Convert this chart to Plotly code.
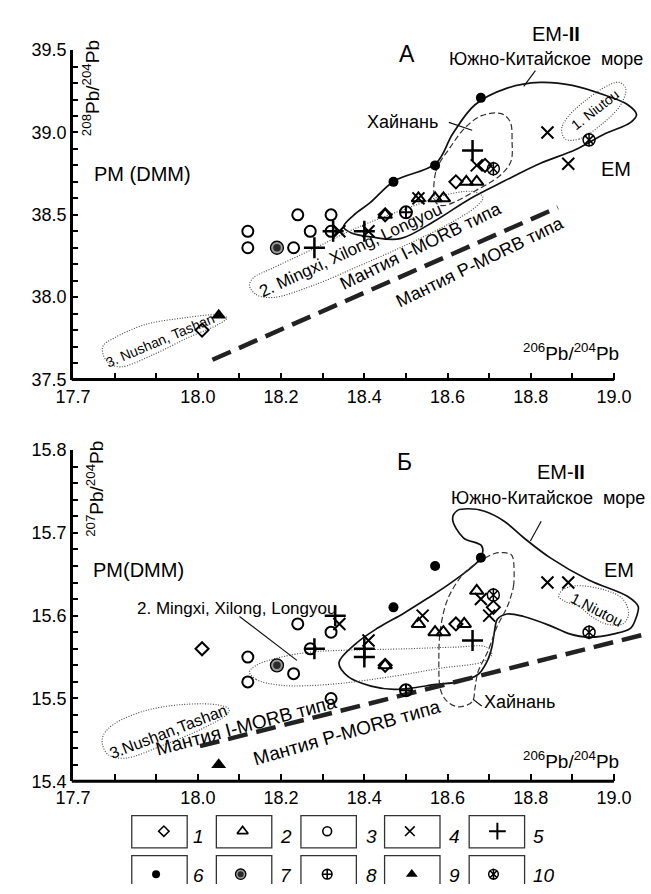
import plotly.graph_objects as go

FIG_W, FIG_H = 651, 894
FONT = "Arial, Liberation Sans, sans-serif"

# ---------------- axes / ticks ----------------
X_RANGE = [17.7, 19.0888]
X_TICKS = [17.7, 17.8, 17.9, 18.0, 18.1, 18.2, 18.3, 18.4, 18.5, 18.6, 18.7, 18.8, 18.9, 19.0]
X_TEXT = ["17.7", "", "", "18.0", "", "18.2", "", "18.4", "", "18.6", "", "18.8", "", "19.0"]
A_Y_TICKS = [37.5, 37.6, 37.7, 37.8, 37.9, 38.0, 38.1, 38.2, 38.3, 38.4, 38.5,
             38.6, 38.7, 38.8, 38.9, 39.0, 39.1, 39.2, 39.3, 39.4, 39.5]
A_Y_TEXT = ["37.5", "", "", "", "", "38.0", "", "", "", "", "38.5",
            "", "", "", "", "39.0", "", "", "", "", "39.5"]
B_Y_TICKS = [15.40, 15.42, 15.44, 15.46, 15.48, 15.50, 15.52, 15.54, 15.56, 15.58, 15.60,
             15.62, 15.64, 15.66, 15.68, 15.70, 15.72, 15.74, 15.76, 15.78, 15.80]
B_Y_TEXT = ["15.4", "", "", "", "", "15.5", "", "", "", "", "15.6",
            "", "", "", "", "15.7", "", "", "", "", "15.8"]

# ---------------- panel A data (208Pb/204Pb) ----------------
A_pts = {
    1: ([18.01, 18.45, 18.62, 18.69], [37.80, 38.50, 38.70, 38.80]),
    2: ([18.45, 18.53, 18.57, 18.59, 18.645, 18.67], [38.50, 38.60, 38.60, 38.60, 38.70, 38.70]),
    3: ([18.12, 18.12, 18.24, 18.32, 18.27, 18.23, 18.32], [38.40, 38.30, 38.50, 38.50, 38.40, 38.30, 38.40]),
    4: ([18.34, 18.41, 18.53, 18.67, 18.84, 18.89], [38.40, 38.40, 38.60, 38.80, 39.00, 38.81]),
    5: ([18.28, 18.325, 18.40, 18.66], [38.30, 38.40, 38.40, 38.89]),
    6: ([18.47, 18.57, 18.68], [38.70, 38.80, 39.21]),
    7: ([18.19], [38.30]),
    8: ([18.50], [38.515]),
    9: ([18.05], [37.89]),
    10: ([18.71, 18.94], [38.78, 38.955]),
}
A_sea_x = [18.350, 18.374, 18.414, 18.472, 18.572, 18.612, 18.666, 18.743, 18.822, 18.900, 18.977, 19.033,
           19.054, 19.040, 18.977, 18.907, 18.822, 18.736, 18.654, 18.572, 18.486, 18.416, 18.369, 18.350]
A_sea_y = [38.426, 38.497, 38.574, 38.705, 38.812, 38.990, 39.168, 39.269, 39.304, 39.286, 39.227, 39.168,
           39.108, 39.061, 38.990, 38.895, 38.812, 38.705, 38.598, 38.467, 38.355, 38.366, 38.390, 38.426]
A_hai_x = [18.572, 18.572, 18.607, 18.643, 18.682, 18.729, 18.750, 18.755, 18.752, 18.724, 18.666, 18.619, 18.589, 18.572]
A_hai_y = [38.574, 38.764, 38.912, 39.031, 39.102, 39.114, 39.067, 38.942, 38.823, 38.734, 38.645, 38.580, 38.556, 38.574]
A_min_x = [18.124, 18.140, 18.180, 18.269, 18.386, 18.502, 18.607, 18.666, 18.685, 18.666, 18.607, 18.502,
           18.386, 18.269, 18.175, 18.133, 18.124]
A_min_y = [38.070, 38.016, 37.998, 38.064, 38.188, 38.319, 38.450, 38.545, 38.604, 38.639, 38.628, 38.539,
           38.426, 38.283, 38.171, 38.117, 38.070]
A_nus_x = [17.771, 17.783, 17.813, 17.895, 17.977, 18.047, 18.070, 18.047, 17.965, 17.871, 17.801, 17.773, 17.771]
A_nus_y = [37.666, 37.607, 37.577, 37.654, 37.755, 37.832, 37.874, 37.892, 37.874, 37.832, 37.755, 37.708, 37.666]
A_niu_x = [18.883, 18.916, 18.970, 19.016, 19.028, 19.012, 18.986, 18.930, 18.888, 18.874, 18.883]
A_niu_y = [38.960, 38.960, 39.049, 39.168, 39.269, 39.304, 39.286, 39.191, 39.091, 39.019, 38.960]
A_lead_sea = ([18.783, 18.811], [39.280, 39.375])
A_lead_hai = ([18.603, 18.659], [39.061, 39.013])
A_morb = ([18.035, 18.865], [37.62, 38.545])

# ---------------- panel B data (207Pb/204Pb) ----------------
B_pts = {
    1: ([18.01, 18.45, 18.62, 18.71], [15.56, 15.54, 15.59, 15.61]),
    2: ([18.45, 18.53, 18.57, 18.59, 18.64, 18.67], [15.54, 15.59, 15.58, 15.58, 15.59, 15.63]),
    3: ([18.12, 18.12, 18.24, 18.23, 18.27, 18.32, 18.32], [15.55, 15.52, 15.59, 15.53, 15.56, 15.58, 15.50]),
    4: ([18.34, 18.41, 18.54, 18.68, 18.70, 18.84, 18.89], [15.59, 15.57, 15.60, 15.62, 15.60, 15.64, 15.64]),
    5: ([18.33, 18.28, 18.40, 18.40, 18.66], [15.60, 15.56, 15.56, 15.55, 15.57]),
    6: ([18.47, 18.57, 18.68], [15.61, 15.66, 15.67]),
    7: ([18.19], [15.54]),
    8: ([18.50], [15.51]),
    9: ([18.05], [15.42]),
    10: ([18.71, 18.94], [15.625, 15.58]),
}
B_sea_x = [18.339, 18.379, 18.432, 18.495, 18.549, 18.612, 18.680, 18.682, 18.638, 18.612, 18.624, 18.650,
           18.689, 18.736, 18.783, 18.846, 18.939, 19.033, 19.058, 19.054, 19.040, 19.000, 18.939, 18.893,
           18.846, 18.783, 18.743, 18.720, 18.713, 18.706, 18.694, 18.673, 18.626, 18.572, 18.519, 18.472,
           18.416, 18.362, 18.339]
B_sea_y = [15.543, 15.566, 15.585, 15.603, 15.620, 15.641, 15.670, 15.684, 15.694, 15.717, 15.727, 15.729,
           15.726, 15.714, 15.694, 15.670, 15.643, 15.623, 15.611, 15.599, 15.585, 15.578, 15.574, 15.578,
           15.588, 15.599, 15.602, 15.596, 15.582, 15.561, 15.544, 15.529, 15.520, 15.517, 15.513, 15.511,
           15.515, 15.526, 15.543]
B_hai_x = [18.757, 18.759, 18.752, 18.741, 18.720, 18.696, 18.673, 18.666, 18.659, 18.626, 18.600, 18.584,
           18.579, 18.584, 18.603, 18.643, 18.682, 18.713, 18.736, 18.752, 18.757]
B_hai_y = [15.670, 15.638, 15.623, 15.608, 15.588, 15.556, 15.532, 15.513, 15.496, 15.490, 15.496, 15.509,
           15.549, 15.588, 15.623, 15.653, 15.667, 15.675, 15.676, 15.674, 15.670]
B_min_x = [18.124, 18.140, 18.199, 18.315, 18.472, 18.589, 18.682, 18.706, 18.694, 18.619, 18.502, 18.339,
           18.269, 18.192, 18.140, 18.124]
B_min_y = [15.532, 15.523, 15.516, 15.517, 15.527, 15.537, 15.544, 15.553, 15.562, 15.562, 15.560, 15.558,
           15.556, 15.549, 15.540, 15.532]
B_nus_x = [17.771, 17.785, 17.825, 17.918, 18.012, 18.070, 18.075, 18.051, 17.972, 17.879, 17.801, 17.773, 17.771]
B_nus_y = [15.444, 15.432, 15.428, 15.444, 15.464, 15.481, 15.487, 15.492, 15.493, 15.486, 15.470, 15.456, 15.444]
B_niu_x = [18.867, 18.876, 18.907, 18.977, 19.021, 19.035, 19.021, 18.981, 18.946, 18.916, 18.883, 18.867]
B_niu_y = [15.623, 15.631, 15.636, 15.631, 15.620, 15.602, 15.590, 15.590, 15.599, 15.611, 15.617, 15.623]
B_lead_sea = ([18.825, 18.799], [15.714, 15.690])
B_lead_min = ([18.100, 18.238], [15.599, 15.546])
B_lead_hai = ([18.661, 18.682], [15.499, 15.491])
B_morb = ([18.005, 19.086], [15.4425, 15.579])

LEGEND_NUMS = ["1", "2", "3", "4", "5", "6", "7", "8", "9", "10"]

# ---------------- helpers ----------------
def P(px, py):
    return px / FIG_W, 1 - py / FIG_H

STY = {
    1: dict(symbol='diamond-open', size=10, color='black', line=dict(color='black', width=2)),
    2: dict(symbol='triangle-up-open', size=12, color='black', line=dict(color='black', width=2)),
    3: dict(symbol='circle-open', size=11, color='black', line=dict(color='black', width=2)),
    4: dict(symbol='x-thin-open', size=12, color='black', line=dict(color='black', width=2)),
    5: dict(symbol='cross-thin-open', size=15, color='black', line=dict(color='black', width=2.5)),
    6: dict(symbol='circle', size=10, color='black', line=dict(width=0)),
    8: dict(symbol='circle-cross-open', size=12, color='black', line=dict(color='black', width=2)),
    9: dict(symbol='triangle-up', size=13, color='black', line=dict(width=0)),
}

def marks(g, xs, ys, xa, ya, k=1.0):
    out = []
    base = dict(x=xs, y=ys, xaxis=xa, yaxis=ya, mode='markers', showlegend=False,
                hoverinfo='skip', cliponaxis=False)
    if g in STY:
        s = STY[g]
        ln = dict(s['line'])
        if 'width' in ln and ln['width']:
            ln['width'] = ln['width'] * (0.8 if k < 1 else 1)
        out.append(go.Scatter(**base, marker=dict(symbol=s['symbol'], size=s['size'] * k,
                                                   color=s['color'], line=ln)))
    elif g == 7:
        out.append(go.Scatter(**base, marker=dict(symbol='circle', size=13 * k, color='#9a9a9a',
                                                   line=dict(color='black', width=1.3))))
        out.append(go.Scatter(**base, marker=dict(symbol='circle', size=7.5 * k, color='#2a2a2a',
                                                   line=dict(width=0))))
    elif g == 10:
        out.append(go.Scatter(**base, marker=dict(symbol='circle-x-open', size=12 * k, color='black',
                                                   line=dict(color='black', width=1.5))))
        out.append(go.Scatter(**base, marker=dict(symbol='line-ns-open', size=10 * k, color='black',
                                                   line=dict(color='black', width=1.5))))
    return out

def curve(xs, ys, xa, ya, width, dash='solid', color='#111', spline=True):
    return go.Scatter(x=xs, y=ys, xaxis=xa, yaxis=ya, mode='lines', showlegend=False,
                      hoverinfo='skip',
                      line=dict(color=color, width=width, dash=dash,
                                shape='spline' if spline else 'linear', smoothing=1.0))

fig = go.Figure()

DOT = "1px,1.6px"
HDASH = "6px,3px"
MDASH = "20px,9px"

for xa, ya, sea, hai, mn, nus, niu, leads, morb in [
    ('x', 'y', (A_sea_x, A_sea_y), (A_hai_x, A_hai_y), (A_min_x, A_min_y), (A_nus_x, A_nus_y),
     (A_niu_x, A_niu_y), [A_lead_sea, A_lead_hai], A_morb),
    ('x2', 'y2', (B_sea_x, B_sea_y), (B_hai_x, B_hai_y), (B_min_x, B_min_y), (B_nus_x, B_nus_y),
     (B_niu_x, B_niu_y), [B_lead_sea, B_lead_min, B_lead_hai], B_morb),
]:
    fig.add_trace(curve(*sea, xa, ya, 1.7))
    fig.add_trace(curve(*hai, xa, ya, 1.2, HDASH, '#333'))
    fig.add_trace(curve(*mn, xa, ya, 1.1, DOT, '#444'))
    fig.add_trace(curve(*nus, xa, ya, 1.1, DOT, '#444'))
    fig.add_trace(curve(*niu, xa, ya, 1.1, DOT, '#444'))
    for ld in leads:
        fig.add_trace(curve(*ld, xa, ya, 1.2, spline=False))
    fig.add_trace(curve(*morb, xa, ya, 4.5, MDASH, '#222', spline=False))

for g in range(1, 11):
    for tr in marks(g, *A_pts[g], 'x', 'y'):
        fig.add_trace(tr)
    for tr in marks(g, *B_pts[g], 'x2', 'y2'):
        fig.add_trace(tr)

# ---------------- legend (bottom boxes) ----------------
LEG_BOX_X = [117, 204, 291, 377, 464]
LEG_MARK_X = [[150, 231, 318, 403, 493], [142, 229, 318, 405, 489]]
LEG_ROW_Y = [(824, 857, 840, 845), (865, 898, 884, 885)]
LEG_LAB_X = [178, 267, 356, 441, 528]

shapes = []
annots = []
for r in range(2):
    y0, y1, my, ly = LEG_ROW_Y[r]
    for c in range(5):
        g = r * 5 + c + 1
        bx = LEG_BOX_X[c]
        shapes.append(dict(type='rect', xref='x3', yref='y3', x0=bx, x1=bx + 57, y0=y0, y1=y1,
                           line=dict(color='#333', width=1.3)))
        for tr in marks(g, [LEG_MARK_X[r][c]], [my], 'x3', 'y3', k=0.8):
            fig.add_trace(tr)
        lx, lyp = P(LEG_LAB_X[c], ly)
        annots.append(dict(x=lx, y=lyp, xref='paper', yref='paper', text='<i>%s</i>' % LEGEND_NUMS[g - 1],
                           showarrow=False, xanchor='left', yanchor='middle',
                           font=dict(size=19, family=FONT, color='black')))

# x-axis lines (drawn in paper space so they are not clipped)
x0p = 56.6 / FIG_W
x1p = 613.0 / FIG_W
for py in (378, 789):
    shapes.append(dict(type='line', xref='paper', yref='paper', x0=x0p - 0.002, x1=x1p,
                       y0=1 - py / FIG_H, y1=1 - py / FIG_H, line=dict(color='black', width=3)))

def txt(s, px, py, size, angle=0, xanchor='center'):
    x, y = P(px, py)
    annots.append(dict(x=x, y=y, xref='paper', yref='paper', text=s, showarrow=False,
                       textangle=angle, xanchor=xanchor, yanchor='middle',
                       font=dict(size=size, family=FONT, color='black')))

SEA = "Южно-Китайское\u00a0 море"
# panel A labels
txt("А", 400, 45, 23)
txt("EM-<b>II</b>", 553, 25, 20)
txt(SEA, 543, 50, 18)
txt("Хайнань", 395, 115, 18)
txt("PM (DMM)", 128, 168, 20)
txt("EM", 615, 163, 20)
txt("1. Niutou", 593, 102, 14, -38)
txt("2. Mingxi, Xilong, Longyou", 342, 246, 17, -25)
txt("3. Nushan, Tashan", 147, 338, 14, -23)
txt("Мантия I-MORB типа", 414, 241, 18, -26)
txt("Мантия P-MORB типа", 475, 258, 18, -26)
txt("<sup>208</sup>Pb/<sup>204</sup>Pb", 75, 80, 19, -90)
txt("<sup>206</sup>Pb/<sup>204</sup>Pb", 569, 350, 19)
# panel B labels
txt("Б", 397, 462, 23)
txt("EM-<b>II</b>", 558, 473, 20)
txt(SEA, 545, 499, 18)
txt("PM(DMM)", 124, 573, 20)
txt("EM", 618, 573, 20)
txt("1.Niutou", 595, 613, 15, 27)
txt("2. Mingxi, Xilong, Longyou", 225, 612, 17)
txt("3.Nushan,Tashan", 155, 738, 16, -21)
txt("Мантия I-MORB типа", 234, 732, 19, -15)
txt("Мантия P-MORB типа", 338, 739, 19, -16)
txt("Хайнань", 516, 708, 18)
txt("<sup>207</sup>Pb/<sup>204</sup>Pb", 79, 490, 19, -90)
txt("<sup>206</sup>Pb/<sup>204</sup>Pb", 569, 767, 19)

def xax(anchor):
    return dict(domain=[x0p, 1.0], range=X_RANGE, anchor=anchor, showline=False, showgrid=False,
                zeroline=False, ticks='inside', tickmode='array', tickvals=X_TICKS, ticktext=X_TEXT,
                ticklen=7, tickwidth=2, tickcolor='black', ticklabelstandoff=4,
                tickfont=dict(size=18, family=FONT, color='black'), fixedrange=True)

def yax(anchor, dom, rng, tv, tt):
    return dict(domain=dom, range=rng, anchor=anchor, showline=True, linewidth=3, linecolor='black',
                showgrid=False, zeroline=False, ticks='inside', tickmode='array', tickvals=tv,
                ticktext=tt, ticklen=5, tickwidth=2, tickcolor='black',
                tickfont=dict(size=18, family=FONT, color='black'), fixedrange=True)

fig.update_layout(
    width=FIG_W, height=FIG_H, autosize=False,
    margin=dict(l=0, r=0, t=0, b=0, pad=0),
    paper_bgcolor='white', plot_bgcolor='rgba(0,0,0,0)',
    font=dict(family=FONT, color='black'),
    showlegend=False,
    xaxis=xax('y'),
    yaxis=yax('x', [1 - 378 / FIG_H, 1 - 41 / FIG_H], [37.5, 39.5], A_Y_TICKS, A_Y_TEXT),
    xaxis2=xax('y2'),
    yaxis2=yax('x2', [1 - 789 / FIG_H, 1 - 450 / FIG_H], [15.4, 15.8], B_Y_TICKS, B_Y_TEXT),
    xaxis3=dict(domain=[0, 1], range=[0, FIG_W], anchor='y3', visible=False, fixedrange=True),
    yaxis3=dict(domain=[0, 80 / FIG_H], range=[894, 814], anchor='x3', visible=False, fixedrange=True),
    shapes=shapes,
    annotations=annots,
)

fig.write_html("out.html")
